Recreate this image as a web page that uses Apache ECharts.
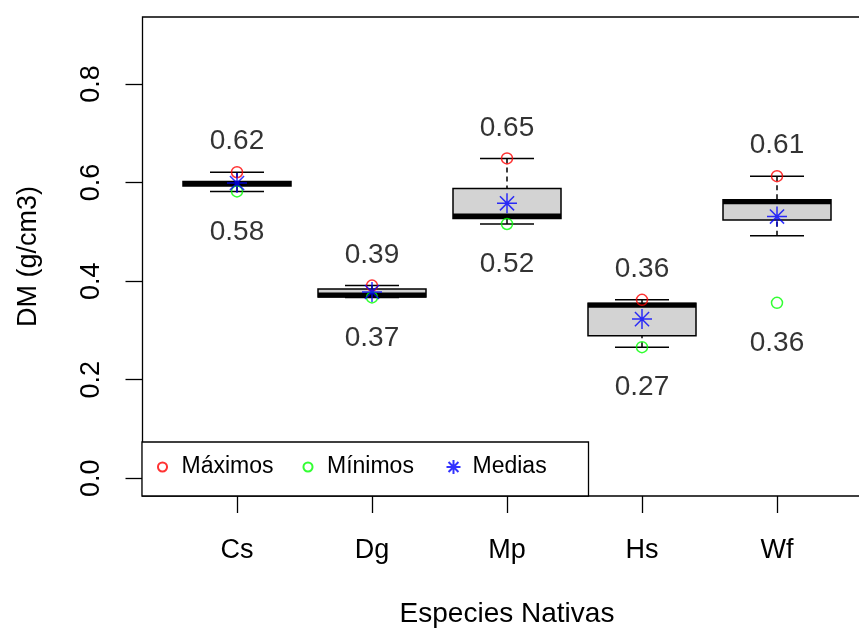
<!DOCTYPE html>
<html>
<head>
<meta charset="utf-8">
<script src="https://cdn.jsdelivr.net/npm/echarts@6/dist/echarts.min.js"></script>
<style>
  html, body { margin: 0; padding: 0; background: #fff; overflow: hidden; }
  #chart { width: 880px; height: 630px; }
</style>
</head>
<body>
<div id="chart"></div>
<script>
// Wood density (DM, g/cm3) of five native species
const species     = ['Cs', 'Dg', 'Mp', 'Hs', 'Wf'];
const whiskerLow  = [0.582, 0.367, 0.516, 0.266, 0.492];
const q1          = [0.593, 0.368, 0.527, 0.289, 0.524];
const medians     = [0.598, 0.372, 0.532, 0.351, 0.561];
const q3          = [0.602, 0.384, 0.588, 0.355, 0.565];
const whiskerHigh = [0.621, 0.391, 0.649, 0.362, 0.613];
const maxima      = [0.621, 0.391, 0.649, 0.362, 0.613];
const minima      = [0.582, 0.367, 0.516, 0.266, 0.356];
const means       = [0.599, 0.378, 0.558, 0.323, 0.531];
const yTicks      = [0, 0.2, 0.4, 0.6, 0.8];
const xTicks      = [1, 2, 3, 4, 5];

const FONT = "'Liberation Sans', Arial, sans-serif";
const STAR = 'path://M10,0L10,20M0,10L20,10M2.93,2.93L17.07,17.07M2.93,17.07L17.07,2.93';
const RING = 'path://M0,0M20,20M10,3.5A6.5,6.5,0,1,1,9.99,3.5Z';

const boxData = species.map((s, i) => [i + 1, whiskerLow[i], q1[i], medians[i], q3[i], whiskerHigh[i]]);
const pts = arr => species.map((s, i) => [i + 1, arr[i]]);

function renderBox(params, api) {
  const x = api.value(0);
  const lo = api.coord([x, api.value(1)]);
  const b1 = api.coord([x, api.value(2)]);
  const md = api.coord([x, api.value(3)]);
  const b3 = api.coord([x, api.value(4)]);
  const hi = api.coord([x, api.value(5)]);
  const boxW = api.size([0.8, 0])[0];
  const capW = api.size([0.4, 0])[0];
  const cx = lo[0];
  const seg = (x1, y1, x2, y2, style) => ({ type: 'line', shape: { x1, y1, x2, y2 }, style });
  const solid = { stroke: '#000', lineWidth: 1.5 };
  const dashed = { stroke: '#000', lineWidth: 1.5, lineDash: [5, 4] };
  return {
    type: 'group',
    children: [
      seg(cx, hi[1], cx, b3[1], dashed),
      seg(cx, lo[1], cx, b1[1], dashed),
      seg(cx - capW / 2, hi[1], cx + capW / 2, hi[1], solid),
      seg(cx - capW / 2, lo[1], cx + capW / 2, lo[1], solid),
      { type: 'rect',
        shape: { x: cx - boxW / 2, y: b3[1], width: boxW, height: b1[1] - b3[1] },
        style: { fill: '#d3d3d3', stroke: '#000', lineWidth: 1.5 } },
      seg(cx - boxW / 2, md[1], cx + boxW / 2, md[1], { stroke: '#000', lineWidth: 5 })
    ]
  };
}

const valueLabel = (pos, dist) => ({
  show: true, position: pos, distance: dist,
  formatter: p => p.value[1].toFixed(2),
  fontSize: 28, fontFamily: FONT, color: '#000'
});

const chart = echarts.init(document.getElementById('chart'), null, { renderer: 'canvas' });
chart.setOption({
  animation: false,
  backgroundColor: '#fff',
  grid: {
    left: 142.5, top: 17, width: 729, height: 479,
    outerBoundsMode: 'none', containLabel: false,
    show: true, borderColor: '#000', borderWidth: 1.3, backgroundColor: 'transparent'
  },
  xAxis: {
    type: 'value', min: 0.3, max: 5.7,
    name: 'Especies Nativas', nameLocation: 'middle', nameGap: 104,
    nameTextStyle: { fontSize: 28, fontFamily: FONT, color: '#000' },
    axisLine: { show: false, onZero: false },
    splitLine: { show: false },
    axisTick: { show: true, length: 17, customValues: xTicks, lineStyle: { color: '#000', width: 1.3 } },
    axisLabel: {
      customValues: xTicks, margin: 41,
      formatter: v => species[Math.round(v) - 1],
      fontSize: 27, fontFamily: FONT, color: '#000'
    }
  },
  yAxis: {
    type: 'value', min: -0.036, max: 0.936,
    name: 'DM (g/cm3)', nameLocation: 'middle', nameGap: 100, nameRotate: 90,
    nameTextStyle: { fontSize: 27, fontFamily: FONT, color: '#000' },
    axisLine: { show: false, onZero: false },
    splitLine: { show: false },
    axisTick: { show: true, length: 17, customValues: yTicks, lineStyle: { color: '#000', width: 1.3 } },
    axisLabel: {
      customValues: yTicks, rotate: 90, margin: 37,
      formatter: v => v.toFixed(1),
      fontSize: 27, fontFamily: FONT, color: '#000'
    }
  },
  legend: {
    left: 142, top: 442, orient: 'horizontal',
    padding: [12, 16, 16, 11],
    itemGap: 17, itemWidth: 14, itemHeight: 14,
    borderColor: '#000', borderWidth: 1.3, backgroundColor: '#fff',
    selectedMode: false,
    textStyle: { fontSize: 23, fontFamily: FONT, color: '#000', width: 100, padding: [0, 0, 0, 7], lineHeight: 26 },
    data: [
      { name: 'Máximos', icon: RING },
      { name: 'Mínimos', icon: RING },
      { name: 'Medias', icon: STAR }
    ]
  },
  series: [
    {
      type: 'custom', name: 'boxes', renderItem: renderBox, data: boxData,
      encode: { x: 0, y: [1, 2, 3, 4, 5] }, z: 2
    },
    {
      type: 'scatter', name: 'Máximos', data: pts(maxima),
      symbol: 'circle', symbolSize: 11,
      itemStyle: { color: 'none', borderColor: '#FF0000', borderWidth: 1.5 },
      label: valueLabel('top', 8.5), z: 3
    },
    {
      type: 'scatter', name: 'Mínimos', data: pts(minima),
      symbol: 'circle', symbolSize: 11,
      itemStyle: { color: 'none', borderColor: '#00FF00', borderWidth: 1.5 },
      label: valueLabel('bottom', 18.5), z: 3
    },
    {
      type: 'scatter', name: 'Medias', data: pts(means),
      symbol: STAR, symbolSize: 20,
      itemStyle: { color: 'none', borderColor: '#0000FF', borderWidth: 1.5 },
      z: 4
    }
  ]
});
</script>
</body>
</html>
